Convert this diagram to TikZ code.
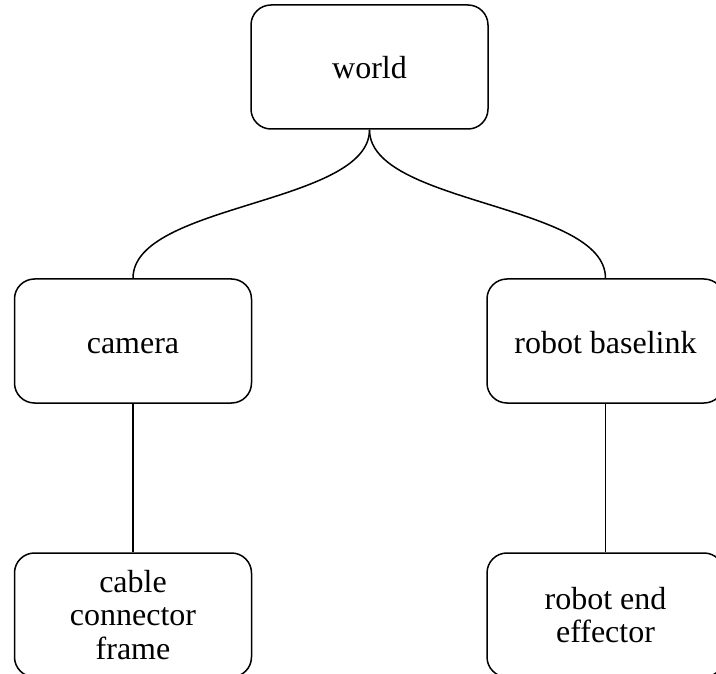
\documentclass[tikz,border=0pt]{standalone}
\usepackage{fontspec}
\setmainfont{Liberation Serif}
\begin{document}
\begin{tikzpicture}[x=1pt,y=-1pt,
  framebox/.style={draw, line width=1.5pt, rounded corners=20pt, rectangle,
    minimum width=237pt, minimum height=124pt, inner sep=0pt, align=center,
    font=\fontsize{32}{33.5}\selectfont},
  oneline/.style={text height=24pt, text depth=0pt},
  link/.style={line width=1.5pt}]
\useasboundingbox (0,0) rectangle (716,674);
\clip (0,0) rectangle (716,674);
\node[framebox, oneline] (world) at (369.5,67) {world};
\node[framebox, oneline] (camera) at (133,341) {camera};
\node[framebox, oneline] (base) at (605.5,341) {robot baselink};
\node[framebox] (cable) at (133,615) {cable\\connector\\frame};
\node[framebox] (eff) at (605.5,615) {robot end\\effector};
\draw[link] (world.south) .. controls +(0,75) and +(0,-75) .. (camera.north);
\draw[link] (world.south) .. controls +(0,75) and +(0,-75) .. (base.north);
\draw[link] (camera.south) -- (cable.north);
\draw[link] (base.south) -- (eff.north);
\end{tikzpicture}
\end{document}
